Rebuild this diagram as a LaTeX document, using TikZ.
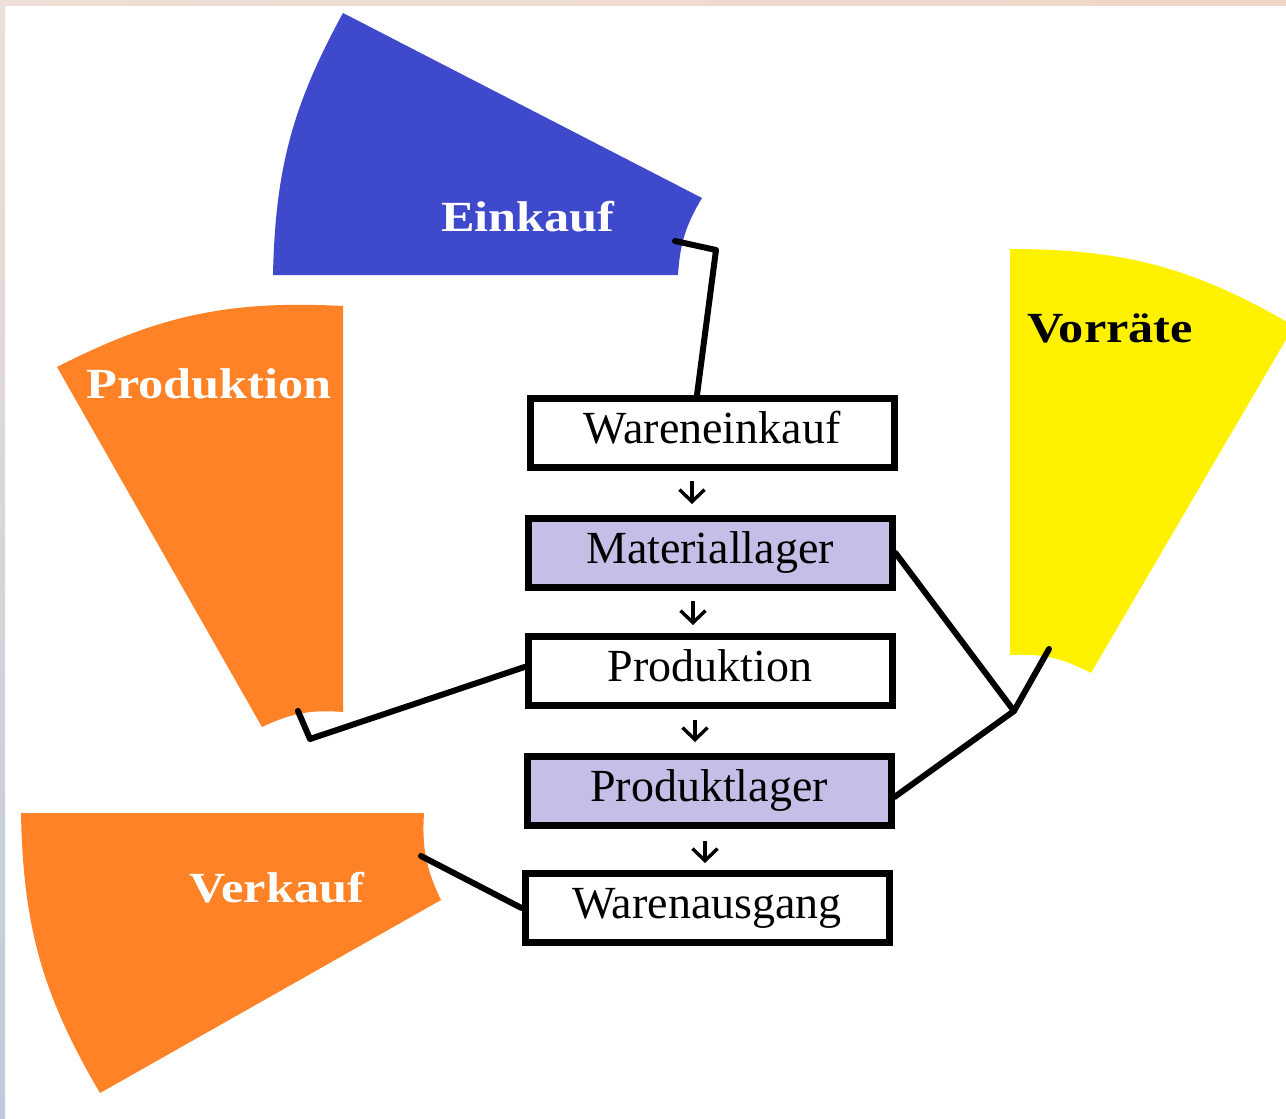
\documentclass[tikz,border=0pt]{standalone}
\usepackage{fontspec}
\usepackage{graphicx}
\setmainfont{Liberation Serif}
\usetikzlibrary{arrows.meta,calc}
\definecolor{blueE}{RGB}{63,73,204}
\definecolor{orangeP}{RGB}{255,130,38}
\definecolor{yellowV}{RGB}{255,242,0}
\definecolor{lav}{RGB}{197,190,230}
\definecolor{frameA}{RGB}{238,224,216}
\definecolor{frameB}{RGB}{192,202,218}
\definecolor{frameC}{RGB}{240,214,200}
\newcommand{\segtext}[1]{\scalebox{1.17}[1]{#1}}
\begin{document}
\begin{tikzpicture}[x=1pt,y=-1pt,
  box/.style={draw=black,line width=7pt,minimum width=364pt,minimum height=69pt,inner sep=0pt,
    font=\fontsize{46}{50}\selectfont,text height=31pt,text depth=10pt},
  whitebox/.style={box,fill=white},
  lavbox/.style={box,fill=lav},
  link/.style={line width=6pt,line cap=round,line join=round},
  flow/.style={line width=3.4pt,-{Straight Barb[length=12pt,width=25pt]}},
  seglabel/.style={font=\fontsize{43}{46}\selectfont\bfseries,inner sep=0pt,anchor=base}
]
\clip (0,0) rectangle (1286,1119);
\fill[white] (0,0) rectangle (1286,1119);
\shade[left color=frameA,right color=frameC] (0,0) rectangle (1286,5);
\shade[top color=frameA,bottom color=frameB] (0,0) rectangle (5,1119);

% segments
\fill[blueE] (343,13) to[bend right=13.7] (273,275) -- (678,275) to[bend left=13.7] (702,198) -- cycle;
\fill[orangeP] (57,367) to[bend left=15] (343,306) -- (343,712) to[bend right=15] (262,727) -- cycle;
\fill[orangeP] (21,813) -- (424,813) to[bend right=14.7] (441,900) -- (100,1093) to[bend left=14.7] (21,813) -- cycle;
\fill[yellowV] (1010,249) to[bend left=15.2] (1294,326) -- (1091,673) to[bend right=15.2] (1010,655) -- cycle;

% boxes
\node[whitebox] (wa) at (712,433) {Wareneinkauf};
\node[lavbox]   (ml) at (710,553) {Materiallager};
\node[whitebox] (pr) at (710,671) {Produktion};
\node[lavbox]   (pl) at (709,791) {Produktlager};
\node[whitebox] (wg) at (707,908) {Warenausgang};

% connector ports
\coordinate (einPort) at (675,241);
\coordinate (einBend) at (716,250);
\coordinate (proPort) at (298,711);
\coordinate (proBend) at (310,739);
\coordinate (verPort) at (421,856);
\coordinate (vorPort) at (1049,649);
\coordinate (junc) at (1014,711);

\draw[link] (einPort) -- (einBend) -- ($(wa.north)+(-15,0)$);
\draw[link] (proPort) -- (proBend) -- ($(pr.west)+(0,-4)$);
\draw[link] (verPort) -- (wg.west);
\draw[link] (ml.east) -- (junc) -- ($(pl.east)+(0,6)$);
\draw[link] (junc) -- (vorPort);

% flow arrows
\draw[flow] ($(wa.south)+(-20,10)$) -- ($(ml.north)+(-18,-11)$);
\draw[flow] ($(ml.south)+(-17,10)$) -- ($(pr.north)+(-17,-8)$);
\draw[flow] ($(pr.south)+(-15,11)$) -- ($(pl.north)+(-14,-11)$);
\draw[flow] ($(pl.south)+(-4,12)$) -- ($(wg.north)+(-2,-7)$);

% segment labels
\node[seglabel,white] (lEin) at (528,231) {\segtext{Einkauf}};
\node[seglabel,white] (lPro) at (209,398) {\segtext{Produktion}};
\node[seglabel,black] (lVor) at (1110,342) {\segtext{Vorräte}};
\node[seglabel,white] (lVer) at (277,902) {\segtext{Verkauf}};
\end{tikzpicture}
\end{document}
